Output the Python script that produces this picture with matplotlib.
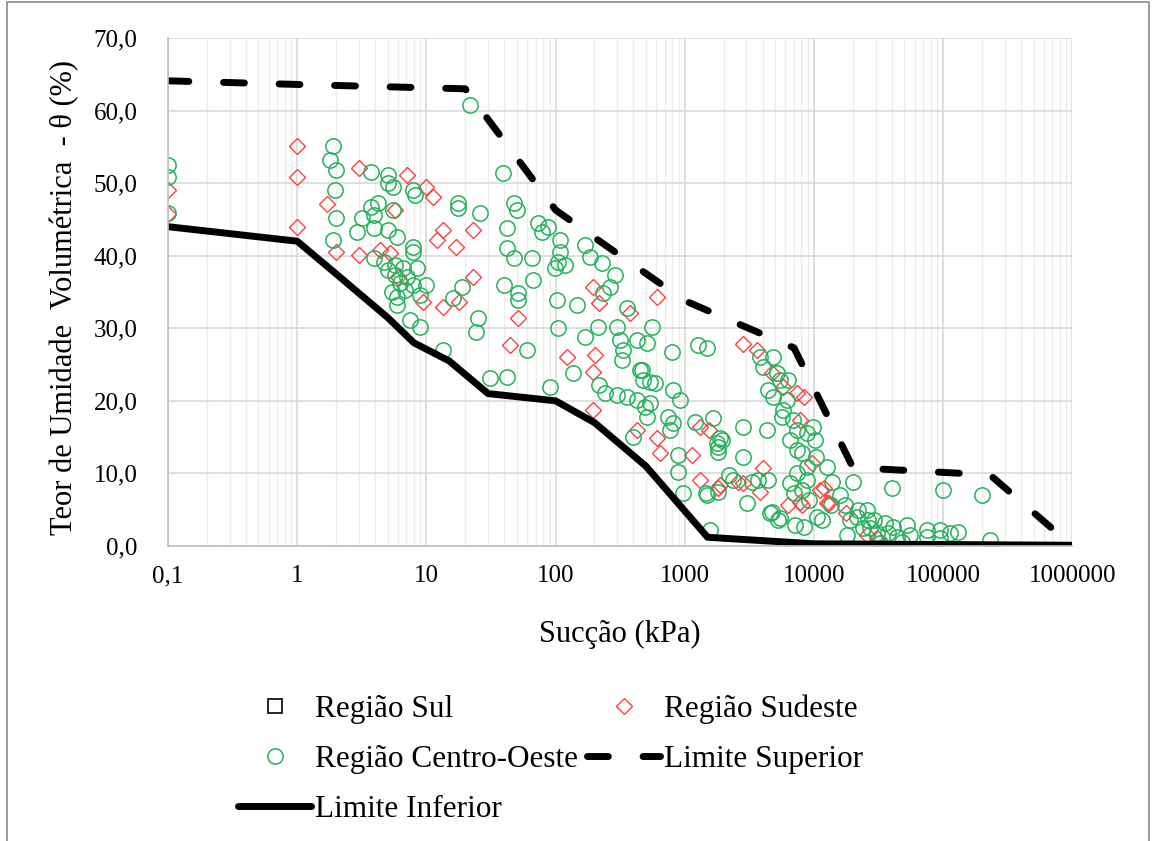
import matplotlib
matplotlib.use("Agg")
import matplotlib.pyplot as plt
from matplotlib.ticker import FixedLocator, FuncFormatter, LogLocator, NullFormatter
from matplotlib.patches import Rectangle

plt.rcParams['font.family'] = ['Liberation Serif', 'DejaVu Serif']

# Região Sul has no measured points in this data set (legend entry only)
sul_x = []
sul_y = []

# Região Sudeste: sucção (kPa), teor de umidade volumétrica (%)
sudeste_x = [0.1, 0.1, 1, 1, 1, 1.7, 2.0, 3.0, 3.0, 4.4, 5.2, 7.1, 10, 11.2, 5.7,
             13.4, 12, 23, 17, 9.4, 13.4, 18, 23, 44, 51, 122, 202, 195, 196, 376,
             426, 196, 215, 610, 2800, 3600, 4700, 5800, 7400, 8400, 7800, 1300,
             1540, 610, 640, 1130, 1300, 1800, 2800, 4000, 3800, 6300, 7800, 9600,
             11100, 12600, 8100, 25700, 30700, 12000, 13000, 17600, 1870, 2600, 6.0]
sudeste_y = [49.0, 45.7, 55.1, 50.9, 44.0, 47.1, 40.5, 52.1, 40.1, 40.8, 40.4, 51.1, 49.5, 48.1, 46.3,
             43.5, 42.2, 43.5, 41.2, 33.6, 32.9, 33.6, 37.1, 27.7, 31.4, 26.0, 26.3, 24.0, 18.7, 32.1,
             16.0, 35.7, 33.5, 34.3, 27.9, 27.0, 23.8, 21.9, 21.1, 20.5, 17.4, 16.4,
             16.0, 14.9, 12.8, 12.5, 9.1, 8.0, 8.7, 10.7, 7.4, 5.6, 6.1, 11.4,
             7.7, 5.9, 5.6, 1.5, 1.1, 8.0, 5.9, 4.5, 8.4, 8.8, 37.0]

# Região Centro-Oeste
co_x = [0.1, 0.1, 0.1, 1.9, 1.8, 2.0, 1.95, 2.0, 1.9, 2.9,
        3.7, 5.0, 5.05, 5.5, 7.9, 8.2, 4.2, 3.7, 3.2, 3.9,
        5.5, 3.9, 5.05, 5.95, 7.9, 7.9, 5.7, 6.6, 5.7, 7.1,
        8.5, 6.3, 7.9, 10, 5.95, 5.95, 7.5, 8.9, 13.4, 19,
        16, 25, 24, 3.9, 4.7, 5.05, 5.4, 6.8, 8.9, 17.6,
        17.6, 26, 39, 21.7, 48, 50, 42, 73, 78, 88,
        42, 48, 66, 108, 108, 104, 118, 99, 169, 185,
        229, 288, 263, 232, 40, 51, 51, 67, 102, 146,
        357, 60, 31, 42, 90, 104, 136, 169, 213, 300,
        316, 330, 325, 426, 450, 475, 215, 240, 300, 357,
        426, 490, 400, 560, 510, 795, 1270, 1490, 465, 540,
        590, 810, 920, 540, 510, 740, 810, 770, 1200, 1650,
        2800, 4300, 1870, 1800, 1800, 890, 880, 960, 1450, 1800,
        2360, 2800, 3030, 2200, 4560, 5300, 7100, 1570, 4000, 3800,
        4800, 4400, 5450, 6200, 5800, 5700, 6900, 7400, 6500, 7400,
        8100, 8800, 7400, 6500, 7000, 8100, 8900, 9200, 10500, 4800,
        5200, 6300, 9800, 10200, 4400, 3700, 4700, 20000, 40000, 100000,
        200000, 230000, 11500, 18000, 13500, 19000, 22000, 25700, 26000, 27000,
        30700, 35500, 37500, 44000, 52000, 55000, 75000, 75000, 94000, 94000,
        113000, 130000, 32400, 48000, 8800, 10400, 12600, 13700, 15900, 17400,
        24000, 29000, 8400, 1770, 1930, 1480, 3300, 5450, 21500, 41000]
co_y = [52.5, 50.9, 45.9, 55.1, 53.2, 51.8, 49.1, 45.2, 42.2, 43.3,
        51.5, 51.1, 50.0, 49.5, 49.1, 48.4, 47.3, 46.7, 45.2, 45.6,
        46.3, 43.8, 43.5, 42.6, 41.2, 40.5, 38.7, 38.3, 37.3, 37.1,
        38.3, 36.2, 36.0, 36.0, 34.3, 33.2, 31.1, 30.2, 27.0, 35.7,
        34.2, 31.4, 29.5, 39.7, 39.1, 38.0, 35.0, 35.3, 34.6, 47.3,
        46.6, 45.9, 51.4, 60.8, 47.3, 46.3, 43.8, 44.5, 43.3, 44.0,
        41.1, 39.7, 39.7, 42.2, 40.5, 39.1, 38.7, 38.3, 41.5, 39.8,
        39.0, 37.3, 35.7, 34.9, 36.0, 34.9, 33.9, 36.7, 33.9, 33.2,
        32.8, 27.0, 23.1, 23.3, 21.9, 30.0, 23.8, 28.8, 30.2, 30.2,
        28.4, 27.0, 25.6, 28.4, 24.3, 22.9, 22.2, 21.1, 20.8, 20.5,
        20.1, 19.2, 15.0, 30.2, 28.0, 26.7, 27.7, 27.3, 24.3, 22.6,
        22.5, 21.5, 20.1, 19.7, 17.8, 17.8, 17.0, 16.0, 17.1, 17.6,
        16.4, 16.0, 14.9, 13.6, 13.0, 12.5, 10.2, 7.3, 7.3, 7.4,
        9.1, 12.3, 5.9, 9.8, 4.5, 3.6, 2.9, 2.2, 24.7, 26.0,
        26.0, 21.5, 22.9, 20.1, 18.7, 17.8, 17.4, 16.0, 14.6, 13.2,
        12.8, 10.9, 10.1, 8.7, 7.3, 7.7, 9.1, 6.3, 4.0, 20.5,
        23.8, 22.9, 16.4, 14.6, 9.1, 9.1, 4.7, 8.8, 8.0, 7.7,
        7.0, 0.8, 3.6, 1.5, 5.6, 3.6, 5.0, 5.0, 3.6, 2.5,
        1.8, 3.2, 1.8, 1.2, 2.9, 1.5, 2.2, 1.2, 2.2, 1.1,
        1.8, 1.9, 0.4, 0.6, 15.6, 12.3, 10.9, 8.8, 7.0, 5.6,
        2.5, 3.6, 2.6, 14.2, 14.6, 7.0, 8.8, 3.9, 4.0, 2.6]

# envelope curves
sup_x = [0.1, 1, 20, 100, 200, 1000, 7000, 20000, 230000, 1000000]
sup_y = [64.1, 63.6, 63.0, 46.3, 42.5, 33.8, 27.3, 10.8, 9.8, 0.0]
inf_x = [0.1, 1, 2, 5, 8, 15, 30, 100, 200, 500, 1500, 10000, 1000000]
inf_y = [44.0, 42.0, 37.5, 31.5, 28.0, 25.5, 21.0, 20.0, 17.0, 11.0, 1.2, 0.3, 0.1]

x_ticks = [0.1, 1, 10, 100, 1000, 10000, 100000, 1000000]
x_labels = ['0,1', '1', '10', '100', '1000', '10000', '100000', '1000000']

fig = plt.figure(figsize=(11.53, 8.41), dpi=100)
ax = fig.add_axes([0.1457, 0.3508, 0.9301 - 0.1457, 0.9548 - 0.3508])

green = '#22b25a'
red = '#ff4040'

h_sul, = ax.plot(sul_x, sul_y, linestyle='none', marker='s', ms=10, mfc='none',
                 mec='black', mew=1.2, label='Região Sul')
h_se, = ax.plot(sudeste_x, sudeste_y, linestyle='none', marker='D', ms=8.5, mfc='none',
                mec=red, mew=1.0, label='Região Sudeste')
h_co, = ax.plot(co_x, co_y, linestyle='none', marker='o', ms=11, mfc='none',
                mec=green, mew=1.1, label='Região Centro-Oeste')
h_sup, = ax.plot(sup_x, sup_y, color='black', lw=5, linestyle=(0, (3, 5)),
                 dash_capstyle='round', solid_joinstyle='round', label='Limite Superior')
h_inf, = ax.plot(inf_x, inf_y, color='black', lw=5, solid_capstyle='round',
                 solid_joinstyle='round', label='Limite Inferior')

ax.set_xscale('log')
ax.set_xlim(0.1, 1000000)
ax.set_ylim(0, 70)
ax.xaxis.set_major_locator(FixedLocator(x_ticks))
ax.xaxis.set_major_formatter(FuncFormatter(lambda v, p: x_labels[x_ticks.index(v)] if v in x_ticks else ''))
ax.xaxis.set_minor_locator(LogLocator(base=10, subs=range(2, 10), numticks=20))
ax.xaxis.set_minor_formatter(NullFormatter())
ax.set_yticks(range(0, 71, 10))
ax.yaxis.set_major_formatter(FuncFormatter(lambda v, p: f'{v:.1f}'.replace('.', ',')))

ax.grid(True, which='major', color='#d9d9d9', lw=1.2)
ax.grid(True, which='minor', axis='x', color='#ececec', lw=1.0)
ax.set_axisbelow(True)
for side in ['top', 'right']:
    ax.spines[side].set_visible(False)
for side in ['left', 'bottom']:
    ax.spines[side].set_color('#bfbfbf')
    ax.spines[side].set_linewidth(1.2)

ax.tick_params(which='both', length=0, labelsize=18, colors='black')
ax.tick_params(axis='y', pad=22)
ax.tick_params(axis='x', pad=14)

ax.set_xlabel('Sucção (kPa)', fontsize=22)
ax.xaxis.set_label_coords(0.5, -0.145)
ax.set_ylabel('Teor de Umidade  Volumétrica  - θ (%)', fontsize=22)
ax.yaxis.set_label_coords(-0.098, 0.49)

# two columns, filled top to bottom
handles = [h_sul, h_co, h_inf, h_se, h_sup]
fig.legend(handles=handles, labels=[h.get_label() for h in handles],
           loc='upper left', bbox_to_anchor=(238 / 1153, 1 - 694 / 841),
           ncol=2, frameon=False, fontsize=22.5, handlelength=2.35,
           handletextpad=0.1, columnspacing=0.3, labelspacing=0.68,
           borderpad=0, borderaxespad=0)

fig.patches.append(Rectangle((7 / 1153, -0.01), (1149 - 7) / 1153, 1.0 - 2 / 841 + 0.01,
                             transform=fig.transFigure, fill=False,
                             edgecolor='#8c8c8c', lw=1.2))

fig.savefig('out.png', dpi=100)
